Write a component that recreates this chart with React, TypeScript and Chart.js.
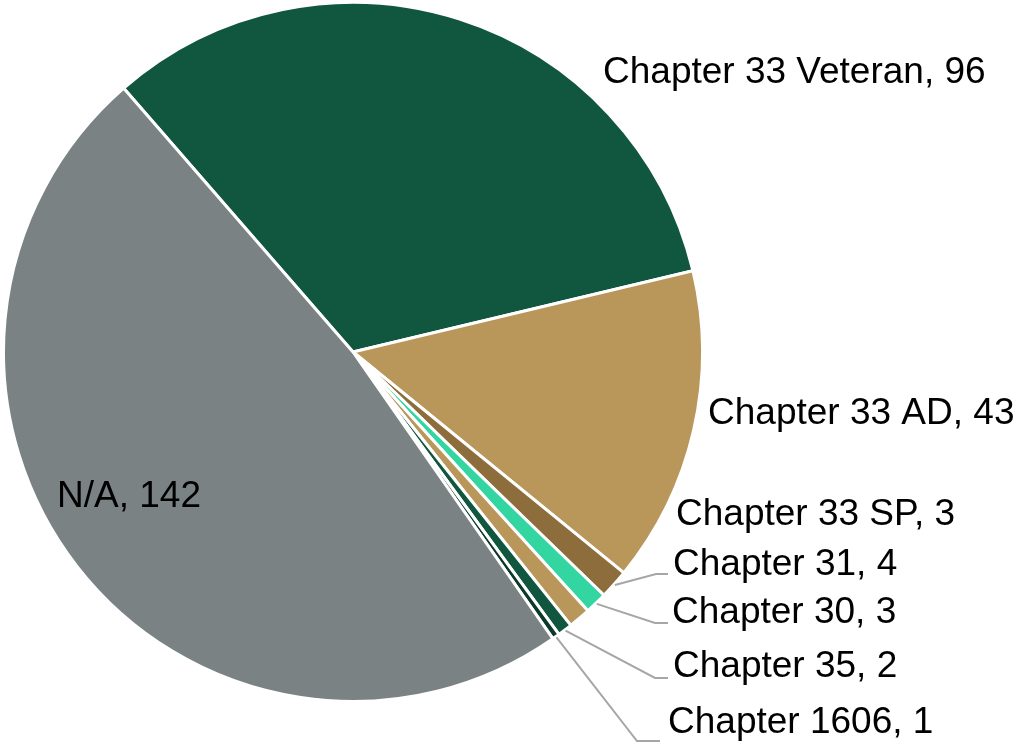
import React, { useEffect, useRef } from "react";
import { Chart, registerables } from "chart.js";

Chart.register(...registerables);

const categories = [
  "Chapter 33 Veteran",
  "Chapter 33 AD",
  "Chapter 31",
  "Chapter 30",
  "Chapter 33 SP",
  "Chapter 35",
  "Chapter 1606",
  "N/A",
];
const values = [96, 43, 4, 3, 3, 2, 1, 142];
const colors = [
  "#11573F",
  "#B9965A",
  "#8C6D3B",
  "#33D6A1",
  "#B9965A",
  "#11573F",
  "#0B3A2A",
  "#7A8283",
];

// label text placement (left x, baseline y) and optional leader elbow
type LabelPlace = { x: number; y: number; leader?: { ex: number; ey: number; endX: number } };
const labelPlaces: LabelPlace[] = [
  { x: 603, y: 83 },
  { x: 708, y: 424 },
  { x: 673, y: 575, leader: { ex: 656, ey: 574, endX: 668 } },
  { x: 672, y: 623, leader: { ex: 655, ey: 623, endX: 668 } },
  { x: 676, y: 525 },
  { x: 673, y: 677, leader: { ex: 655, ey: 678, endX: 668 } },
  { x: 668, y: 733, leader: { ex: 637, ey: 741, endX: 660 } },
  { x: 57, y: 507 },
];

const labelPlugin = {
  id: "pieLabels",
  afterDraw(chart: any) {
    const ctx = chart.ctx;
    const meta = chart.getDatasetMeta(0);
    ctx.save();
    meta.data.forEach((arc: any, i: number) => {
      const p = labelPlaces[i];
      if (!p) return;
      if (p.leader) {
        const mid = (arc.startAngle + arc.endAngle) / 2;
        const r = arc.outerRadius + 1;
        const sx = arc.x + Math.cos(mid) * r;
        const sy = arc.y + Math.sin(mid) * r;
        ctx.strokeStyle = "#A6A6A6";
        ctx.lineWidth = 2;
        ctx.beginPath();
        ctx.moveTo(sx, sy);
        ctx.lineTo(p.leader.ex, p.leader.ey);
        ctx.lineTo(p.leader.endX, p.leader.ey);
        ctx.stroke();
      }
      ctx.fillStyle = "#000000";
      ctx.font = '37px "Liberation Sans", Arial, sans-serif';
      ctx.textAlign = "left";
      ctx.textBaseline = "alphabetic";
      ctx.fillText(`${categories[i]}, ${values[i]}`, p.x, p.y);
    });
    ctx.restore();
  },
};

export default function App() {
  const ref = useRef<HTMLCanvasElement>(null);
  useEffect(() => {
    if (!ref.current) return;
    const chart = new Chart(ref.current, {
      type: "pie",
      data: {
        labels: categories,
        datasets: [
          {
            data: values,
            backgroundColor: colors,
            borderColor: "#FFFFFF",
            borderWidth: 3,
          },
        ],
      },
      options: {
        responsive: false,
        animation: false,
        rotation: -41,
        layout: { padding: { left: 2, top: 1, right: 313, bottom: 39 } },
        plugins: {
          legend: { display: false },
          tooltip: { enabled: false },
        },
      },
      plugins: [labelPlugin],
    });
    return () => chart.destroy();
  }, []);
  return (
    <div style={{ position: "fixed", left: 0, top: 0, width: 1017, height: 742, background: "#fff" }}>
      <canvas ref={ref} width={1017} height={742} style={{ display: "block" }} />
    </div>
  );
}
